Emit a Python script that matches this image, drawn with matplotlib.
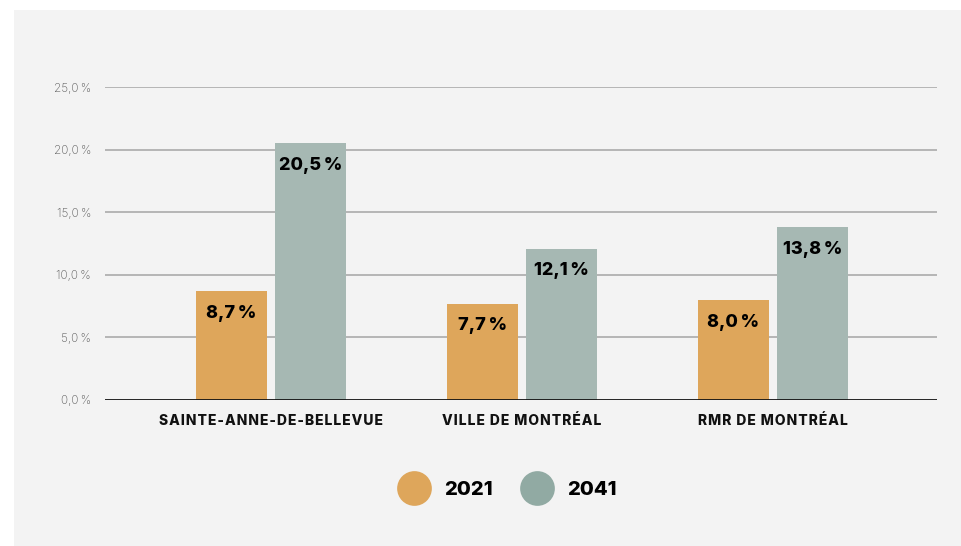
#!/usr/bin/env python3

import matplotlib
matplotlib.use("Agg")
import matplotlib.pyplot as plt
import numpy as np
from matplotlib.lines import Line2D
from matplotlib.patches import Rectangle

categories = ["SAINTE-ANNE-DE-BELLEVUE", "VILLE DE MONTRÉAL", "RMR DE MONTRÉAL"]
years = ["2021", "2041"]
vals_2021 = [8.7, 7.7, 8.0]
vals_2041 = [20.5, 12.1, 13.8]
yticks = [0, 5, 10, 15, 20, 25]

bar_colors = ["#dea65b", "#a6b8b3"]
legend_colors = ["#dea65b", "#91aaa3"]

plt.rcParams['font.family'] = ['Inter', 'DejaVu Sans']


def fr(v):
    return f"{v:.1f}".replace(".", ",") + "\u2009%"


def spaced(s):
    # wide letter spacing like the original
    return "\u200a".join(s)


fig = plt.figure(figsize=(9.62, 5.46), dpi=100)
fig.patch.set_facecolor("white")
# grey panel behind the chart
fig.patches.append(Rectangle((14 / 962, 0), 1, 1 - 10 / 546, transform=fig.transFigure,
                             facecolor="#f3f3f3", edgecolor="none", zorder=-10))

ax = fig.add_axes([105 / 962, 1 - 400 / 546, (937 - 105) / 962, (400 - 87) / 546])
ax.set_facecolor("none")

x = np.arange(len(categories))
w = 71 / 251
gap = 8 / 251
off = (w + gap) / 2

b1 = ax.bar(x - off, vals_2021, w, color=bar_colors[0], zorder=3)
b2 = ax.bar(x + off, vals_2041, w, color=bar_colors[1], zorder=3)

for bars, vals in [(b1, vals_2021), (b2, vals_2041)]:
    for r, v in zip(bars, vals):
        ax.annotate(fr(v), (r.get_x() + r.get_width() / 2, v), xytext=(0, -16),
                    textcoords="offset points", ha="center", va="center",
                    fontsize=13, fontweight="heavy", color="black", zorder=4)

ax.set_xlim((105 - 271) / 251, (937 - 271) / 251)
ax.set_ylim(0, 25)
ax.set_yticks(yticks)
ax.set_yticklabels([fr(t) for t in yticks], fontsize=8.5, color="#5a5a5a", fontweight="light")
ax.tick_params(axis="y", length=0, pad=10)
ax.set_xticks(x)
ax.set_xticklabels([spaced(c) for c in categories], fontsize=10, fontweight="heavy", color="#111111")
ax.tick_params(axis="x", length=0, pad=10)

for t in yticks[1:]:
    ax.axhline(t, color="#aaaaaa", lw=1.2, zorder=1)
ax.axhline(0, color="#111111", lw=2, zorder=5)
for s in ax.spines.values():
    s.set_visible(False)

handles = [Line2D([], [], marker="o", ls="", ms=25, color=c, markeredgewidth=0)
           for c in legend_colors]
fig.legend(handles, years, loc="center", bbox_to_anchor=(505 / 962, 1 - 490 / 546),
           ncol=2, frameon=False, prop={"size": 14.5, "weight": "heavy"},
           handletextpad=0.5, columnspacing=1.2)

fig.savefig("out.png", dpi=100, facecolor=fig.get_facecolor())
